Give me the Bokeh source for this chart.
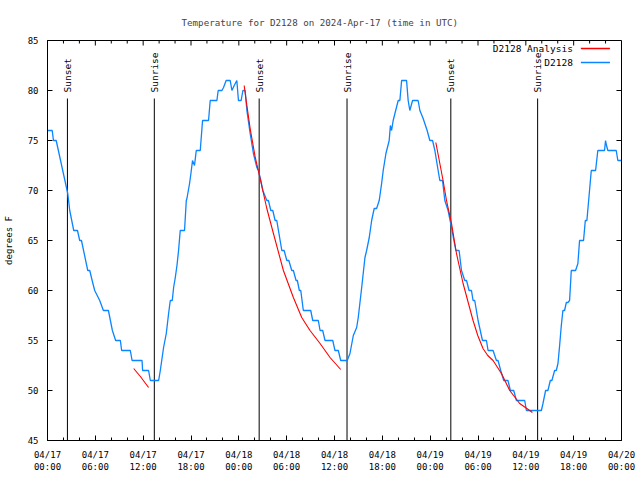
from bokeh.plotting import figure
from bokeh.models import Range1d, LinearAxis, FixedTicker, Label
from bokeh.core.properties import value
from bokeh.embed import file_html
from bokeh.resources import INLINE
import math

# ---- data (hours since 2024-04-17 00:00 UTC, degrees F) ----
obs_hours = [0, 0.59, 0.75, 1.09, 2.54, 2.79, 3.29, 3.76, 4.04, 4.26, 5.05, 5.30, 5.60, 5.92,
             6.55, 7.01, 7.64, 7.89, 8.14, 8.55, 9.14, 9.30, 10.39, 10.61, 11.86, 11.93, 12.68,
             12.90, 13.94, 14.15, 14.56, 14.90, 15.19, 15.40, 15.65, 15.82, 16.03, 16.24, 16.44,
             16.65, 17.19, 17.41, 17.49, 17.82, 17.99, 18.19, 18.44, 18.66, 19.16, 19.45, 19.82,
             20.20, 20.41, 21.25, 21.41, 21.88, 22.08, 22.41, 22.92, 23.13, 23.42, 23.75, 23.95,
             24.29, 24.51, 24.79, 25.01, 25.42, 25.83, 26.26, 26.46, 26.76, 27.01, 27.51, 27.71,
             28.01, 28.26, 28.55, 28.76, 29.18, 29.39, 29.68, 30.02, 30.27, 30.64, 30.84, 31.18,
             31.34, 31.59, 31.77, 32.09, 33.02, 33.27, 33.97, 34.19, 34.52, 34.81, 35.78, 36.06,
             36.48, 36.78, 37.60, 37.94, 38.36, 38.78, 38.98, 39.41, 39.82, 40.03, 40.36, 40.66,
             40.98, 41.28, 41.61, 41.91, 42.11, 42.45, 42.86, 43.01, 43.16, 43.36, 43.58, 43.99,
             44.20, 44.42, 45.04, 45.24, 45.45, 45.79, 46.49, 46.71, 47.12, 47.62, 47.96, 48.30,
             48.59, 49.00, 49.21, 49.55, 49.84, 50.25, 50.68, 50.88, 51.22, 51.63, 51.93, 52.34,
             52.56, 52.88, 53.18, 53.38, 53.59, 54.01, 54.56, 55.06, 55.26, 55.89, 56.31, 56.51,
             56.85, 57.23, 57.76, 58.06, 58.48, 58.82, 59.86, 60.07, 61.95, 62.15, 62.48, 62.77,
             63.07, 63.27, 63.61, 63.82, 64.03, 64.24, 64.45, 64.65, 64.86, 65.08, 65.28, 65.49,
             65.70, 66.24, 66.53, 66.74, 67.24, 67.46, 67.66, 67.99, 68.21, 68.75, 69.03, 69.25,
             69.87, 70.00, 70.12, 70.29, 71.34, 71.54, 71.96]
obs_temp = [76, 76, 75, 75, 69.7, 68, 66, 66, 65, 65, 62, 62, 61, 60,
            59, 58, 58, 57, 56, 55, 55, 54, 54, 53, 53, 52, 52,
            51, 51, 52, 54.3, 55.7, 57.7, 59, 59, 60.3, 61.3, 62.5, 64,
            66, 66, 69, 69.2, 70.7, 71.7, 73, 72.5, 74, 74, 77, 77,
            77, 79, 79, 80, 80, 80.3, 81, 81, 80, 80.5, 81, 79,
            79, 80, 80, 78, 75.7, 73.7, 72.3, 72, 71, 70, 69, 69,
            68, 68, 67, 67, 65, 64, 64, 63, 63, 62, 62, 61,
            61, 60, 60, 58, 58, 57, 57, 56, 56, 55, 55, 54,
            54, 53, 53, 53.7, 55.5, 56.3, 57.3, 60.3, 63.3, 64, 65.3, 67,
            68.2, 68.2, 69, 70.7, 72, 73.7, 75, 76.5, 76, 77, 77.7, 79,
            79, 81, 81, 79, 78, 79, 79, 78, 77.2, 76, 75, 75,
            74, 72, 71, 71, 69, 68, 66.3, 65.4, 64, 64, 62, 61,
            61, 60, 60, 59, 59, 57, 55, 55, 54, 54, 53, 53,
            52, 51, 51, 50, 50, 49, 49, 48, 48, 48.7, 50, 50,
            51, 51, 52, 52, 52.7, 54.5, 56.5, 58, 58, 58.8, 58.8, 59,
            62, 62, 62.7, 65, 65, 67, 67, 70, 72, 72, 74, 74,
            74, 75, 74.5, 74, 74, 73, 73]

fit1_hours = [10.81, 11.65, 12.68]
fit1_temp = [52.2, 51.4, 50.3]
fit2_hours = [24.67, 24.92, 25.42, 26.04, 26.67, 27.51, 28.34, 29.59, 30.84, 31.89, 32.93,
              34.19, 35.44, 36.78]
fit2_temp = [80.5, 79.0, 76.2, 73.4, 71.2, 68.2, 65.7, 62.0, 59.3, 57.3, 56.0, 54.7, 53.3, 52.1]
fit3_hours = [48.71, 49.62, 50.05, 50.68, 51.30, 52.13, 53.38, 53.97, 54.63, 55.22, 55.89,
              56.94, 57.98, 59.23, 60.48, 60.82]
fit3_temp = [74.8, 71.0, 69.0, 66.7, 63.7, 60.7, 57.0, 55.5, 54.2, 53.5, 53.0, 51.7, 50.0,
             48.7, 48.0, 47.8]

event_hours = [2.50, 13.40, 26.55, 37.57, 50.59, 61.48]
event_names = ["Sunset", "Sunrise", "Sunset", "Sunrise", "Sunset", "Sunrise"]

x_tick_hours = list(range(0, 73, 6))
x_minor_hours = list(range(0, 73, 2))
x_tick_labels = ["04/%02d\n%02d:00" % (17 + h // 24, h % 24) for h in x_tick_hours]
y_ticks = [45, 50, 55, 60, 65, 70, 75, 80, 85]

TITLE = "Temperature for D2128 on 2024-Apr-17 (time in UTC)"

X0, X1, Y0, Y1 = 0, 72, 45, 85
FONT = "DejaVu Sans Mono"
FS = "9px"
BLUE = "#0a84ff"
RED = "#ff0000"

p = figure(width=640, height=480, x_range=Range1d(X0, X1), y_range=Range1d(Y0, Y1),
           output_backend="svg", toolbar_location=None, tools="",
           min_border_left=47, min_border_right=19, min_border_top=40, min_border_bottom=40,
           x_axis_type=None, y_axis_type=None)
p.grid.visible = False
p.outline_line_color = "black"
p.outline_line_width = 1
p.background_fill_color = "white"
p.border_fill_color = "white"

p.title.text = TITLE
p.title.align = "left"
p.title.text_font = FONT
p.title.text_font_size = "9.2px"
p.title.text_font_style = "normal"
p.title.standoff = 26
p.title.offset = 134


def style_axis(ax):
    ax.axis_line_color = "black"
    ax.major_tick_in = 5
    ax.major_tick_out = 0
    ax.minor_tick_in = 3
    ax.minor_tick_out = 0
    ax.major_label_text_font = FONT
    ax.major_label_text_font_size = FS
    ax.major_label_text_color = "black"
    ax.axis_label_text_font = FONT
    ax.axis_label_text_font_size = FS
    ax.axis_label_text_font_style = "normal"
    ax.axis_label_text_color = "black"


xb = LinearAxis(ticker=FixedTicker(ticks=x_tick_hours, minor_ticks=x_minor_hours))
xb.major_label_overrides = {h: lab for h, lab in zip(x_tick_hours, x_tick_labels)}
style_axis(xb)
xb.major_label_standoff = 9
p.add_layout(xb, "below")

yl = LinearAxis(ticker=FixedTicker(ticks=y_ticks), axis_label="degrees F")
style_axis(yl)
yl.minor_tick_line_color = None
yl.major_label_standoff = 9
yl.axis_label_standoff = 11
p.add_layout(yl, "left")

# mirrored inward ticks on the top and right edges (gnuplot style)
top_minor = [h for h in x_minor_hours if h not in x_tick_hours]
p.segment(x0=x_tick_hours, y0=[Y1] * len(x_tick_hours), x1=x_tick_hours,
          y1=[Y1 - 0.5] * len(x_tick_hours), line_color="black", line_width=1)
p.segment(x0=top_minor, y0=[Y1] * len(top_minor), x1=top_minor,
          y1=[Y1 - 0.3] * len(top_minor), line_color="black", line_width=1)
p.segment(x0=[X1] * len(y_ticks), y0=y_ticks, x1=[X1 - 0.63] * len(y_ticks), y1=y_ticks,
          line_color="black", line_width=1)

# sunrise / sunset markers
p.segment(x0=event_hours, y0=[Y0] * len(event_hours), x1=event_hours, y1=[79.2] * len(event_hours),
          line_color="black", line_width=1)
p.text(x=event_hours, y=[79.8] * len(event_hours), text=event_names, angle=math.pi / 2,
       text_align="left", text_baseline="middle", text_font=value(FONT),
       text_font_size=value("9.5px"), text_color="black")

# data
p.line(obs_hours, obs_temp, line_color=BLUE, line_width=1.3)
for hx, ty in [(fit1_hours, fit1_temp), (fit2_hours, fit2_temp), (fit3_hours, fit3_temp)]:
    p.line(hx, ty, line_color=RED, line_width=1.1)

# legend (gnuplot style: text left of sample)
leg_text_x = 65.9
leg_y = [84.2, 82.8]
leg_x0, leg_x1 = 66.9, 70.55
for yy, txt, col in [(leg_y[0], "D2128 Analysis", RED), (leg_y[1], "D2128", BLUE)]:
    p.add_layout(Label(x=leg_text_x, y=yy, text=txt, text_align="right", text_baseline="middle",
                       text_font=FONT, text_font_size="9.5px", text_color="black"))
    p.segment(x0=[leg_x0], y0=[yy], x1=[leg_x1], y1=[yy], line_color=col, line_width=1.3)

open("out.html", "w").write(file_html(p, INLINE))
